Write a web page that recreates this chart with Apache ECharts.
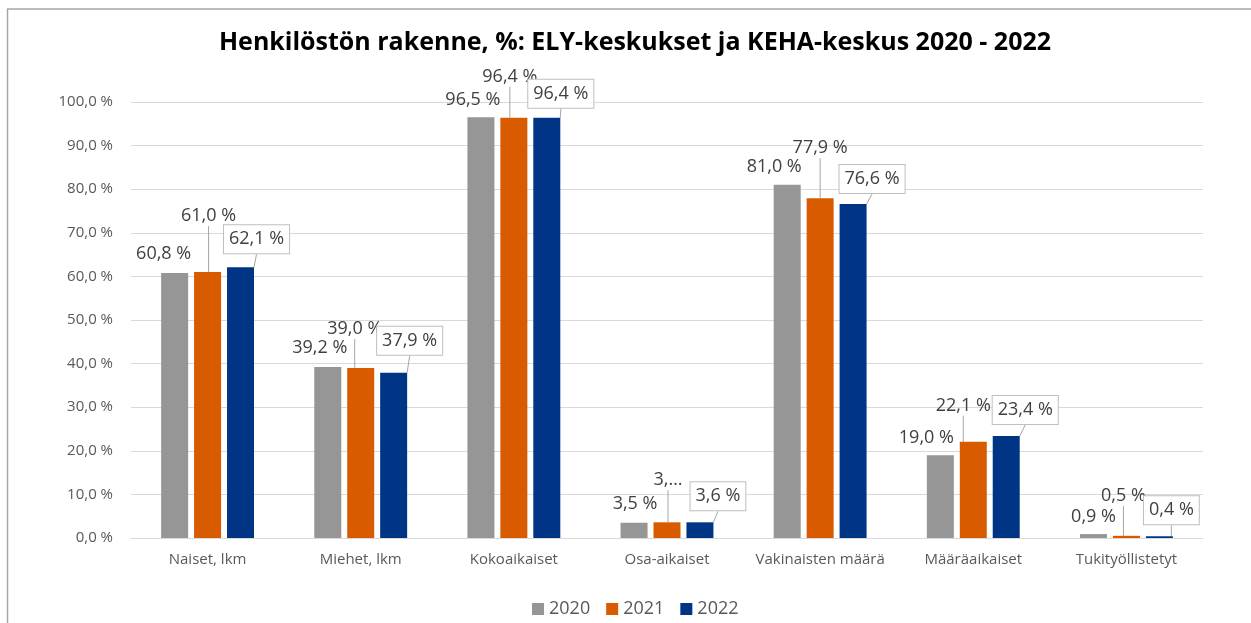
<!DOCTYPE html>
<html>
<head>
<meta charset="utf-8">
<script src="https://cdn.jsdelivr.net/npm/echarts@6/dist/echarts.min.js"></script>
<style>
html,body{margin:0;padding:0;background:#fff;}
#chart{width:1251px;height:623px;}
</style>
</head>
<body>
<div id="chart"></div>
<script>
// ---- data ----
const categories = ['Naiset, lkm', 'Miehet, lkm', 'Kokoaikaiset', 'Osa-aikaiset', 'Vakinaisten määrä', 'Määräaikaiset', 'Tukityöllistetyt'];
const years = ['2020', '2021', '2022'];
const values2020 = [60.8, 39.2, 96.5, 3.5, 81.0, 19.0, 0.9];
const values2021 = [61.0, 39.0, 96.4, 3.6, 77.9, 22.1, 0.5];
const values2022 = [62.1, 37.9, 96.4, 3.6, 76.6, 23.4, 0.4];
// label text overrides (truncated labels in the original)
const labelOverride2021 = [null, null, null, '3,…', null, null, null];
const yTicks = { min: 0, max: 100, interval: 10 };

// ---- layout (label nudges, not data) ----
const nudge2020 = [[-11,-5],[-8,-5],[-8,-3],[1,-5],[-13,-4],[-14,-3],[0,-3]];
const nudge2021 = [[1,-42],[-6,-25],[-4,-27],[1,-28],[0,-36],[-10,-22],[-3,-26]];
const nudge2022 = [[16,-10],[16,-14],[14,-6],[18,-8],[19,-7],[19,-8],[12,-8]];

const colors = ['#969696', '#D95B00', '#003586'];
const fmt = v => v.toFixed(1).replace('.', ',') + ' %';
const FONT = "'Open Sans', 'Noto Sans', sans-serif";

function makeSeries(name, data, color, nudge, opts) {
  return {
    name: name,
    type: 'bar',
    data: data,
    barWidth: 27,
    barGap: '22%',
    itemStyle: { color: color },
    label: Object.assign({
      show: true,
      position: 'top',
      distance: 4,
      color: '#404040',
      fontFamily: FONT,
      fontSize: 18,
      lineHeight: 20,
      formatter: p => fmt(p.value)
    }, opts.label || {}),
    labelLine: opts.labelLine || { show: false },
    labelLayout: function (params) {
      const n = nudge[params.dataIndex];
      return { dx: n[0], dy: n[1] };
    },
    emphasis: { disabled: true },
    animation: false
  };
}

const chart = echarts.init(document.getElementById('chart'), null, { renderer: 'canvas' });
chart.setOption({
  backgroundColor: '#ffffff',
  animation: false,
  color: colors,
  title: {
    text: 'Henkilöstön rakenne, %: ELY-keskukset ja KEHA-keskus 2020 - 2022',
    left: 630,
    textAlign: 'center',
    top: 25,
    textStyle: { fontFamily: FONT, fontWeight: 'bold', fontSize: 25, color: '#000000' }
  },
  graphic: [
    { type: 'line', shape: { x1: 7, y1: 9, x2: 1251, y2: 9 }, style: { stroke: '#a6a6a6', lineWidth: 1.5 }, silent: true },
    { type: 'line', shape: { x1: 7.5, y1: 9, x2: 7.5, y2: 623 }, style: { stroke: '#a6a6a6', lineWidth: 1.5 }, silent: true }
  ],
  legend: {
    data: years,
    left: 527,
    top: 595,
    itemWidth: 12,
    itemHeight: 12,
    itemGap: 16,
    icon: 'rect',
    textStyle: { fontFamily: FONT, fontSize: 18, color: '#595959', padding: [0, 0, 0, 0] }
  },
  grid: { left: 131, right: 48, top: 102, bottom: 85, containLabel: false },
  xAxis: {
    type: 'category',
    data: categories,
    axisTick: { show: false },
    axisLine: { lineStyle: { color: '#d9d9d9', width: 1 } },
    axisLabel: { color: '#595959', fontFamily: FONT, fontSize: 15, margin: 14, interval: 0 }
  },
  yAxis: {
    type: 'value',
    min: yTicks.min,
    max: yTicks.max,
    interval: yTicks.interval,
    axisLine: { show: false },
    axisTick: { show: false },
    splitLine: { lineStyle: { color: '#d9d9d9', width: 1 } },
    axisLabel: { color: '#595959', fontFamily: FONT, fontSize: 15, margin: 18, formatter: v => fmt(v) }
  },
  series: [
    makeSeries(years[0], values2020, colors[0], nudge2020, {}),
    makeSeries(years[1], values2021, colors[1], nudge2021, {
      label: { formatter: p => labelOverride2021[p.dataIndex] || fmt(p.value) },
      labelLine: { show: true, lineStyle: { color: '#a6a6a6', width: 1 } }
    }),
    makeSeries(years[2], values2022, colors[2], nudge2022, {
      label: { backgroundColor: '#ffffff', borderColor: '#bfbfbf', borderWidth: 1, padding: [4, 5] },
      labelLine: { show: true, lineStyle: { color: '#a6a6a6', width: 1 } }
    })
  ]
});
</script>
</body>
</html>
